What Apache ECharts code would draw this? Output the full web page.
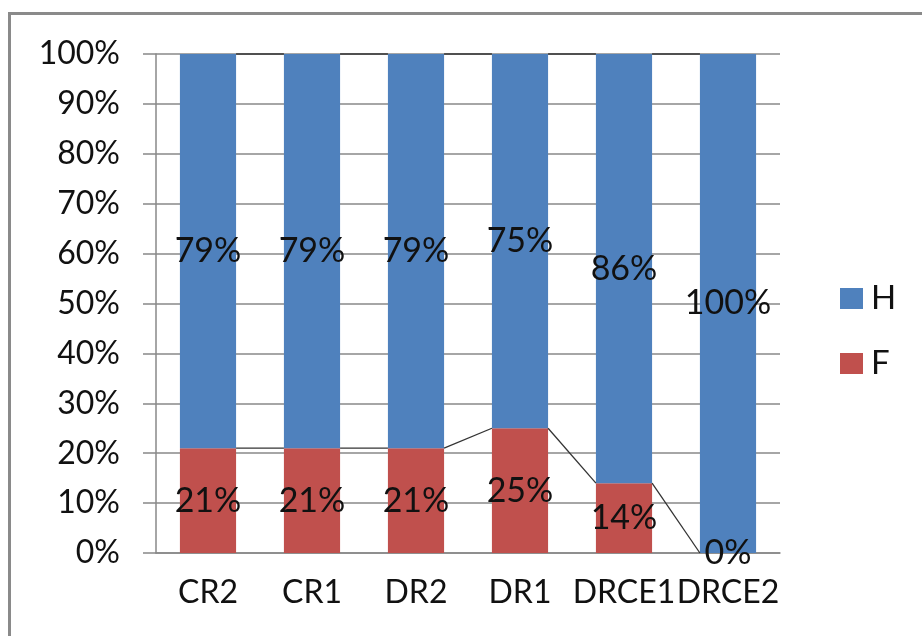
<!DOCTYPE html>
<html>
<head>
<meta charset="utf-8">
<script src="https://cdn.jsdelivr.net/npm/echarts@6/dist/echarts.min.js"></script>
<style>html,body{margin:0;padding:0;background:#fff;}#c{width:922px;height:636px;}</style>
</head>
<body>
<div id="c"></div>
<script>
const categories = ['CR2', 'CR1', 'DR2', 'DR1', 'DRCE1', 'DRCE2'];
const valuesH = [79, 79, 79, 75, 86, 100];
const valuesF = [21, 21, 21, 25, 14, 0];
const yTicks = [0, 10, 20, 30, 40, 50, 60, 70, 80, 90, 100];

const FONT = 'Lato';
const BAR_RATIO = 0.54;
const chart = echarts.init(document.getElementById('c'), null, {renderer: 'canvas'});

// series-line segments built from the data: [fromIndex, fromValue, toValue]
const segF = [], segTop = [];
for (let i = 0; i < categories.length - 1; i++) {
  segF.push([i, valuesF[i], valuesF[i + 1]]);
  segTop.push([i, valuesF[i] + valuesH[i], valuesF[i + 1] + valuesH[i + 1]]);
}
function seriesLine(params, api) {
  const i = api.value(0);
  const a = api.coord([i, api.value(1)]);
  const b = api.coord([i + 1, api.value(2)]);
  const half = api.size([1, 0])[0] * BAR_RATIO / 2;
  return {
    type: 'line',
    shape: {x1: a[0] + half, y1: a[1], x2: b[0] - half, y2: b[1]},
    style: {stroke: '#333', lineWidth: 1.3}
  };
}

chart.setOption({
  animation: false,
  backgroundColor: '#fff',
  textStyle: {fontFamily: FONT},
  graphic: [{
    type: 'rect', silent: true,
    shape: {x: 9.5, y: 13.5, width: 1000, height: 1000},
    style: {fill: 'none', stroke: '#8a8a8a', lineWidth: 3}
  }],
  grid: {left: 156, right: 142, top: 54, bottom: 83, containLabel: false},
  legend: {
    data: ['H', 'F'],
    orient: 'vertical',
    left: 835, top: 277,
    itemWidth: 23, itemHeight: 21, itemGap: 32,
    icon: 'rect',
    textStyle: {fontFamily: FONT, fontSize: 33, color: '#111', padding: [0, 0, 0, 3]}
  },
  xAxis: {
    type: 'category',
    data: categories,
    axisLine: {show: true, lineStyle: {color: '#888', width: 1.5}},
    axisTick: {show: false},
    axisLabel: {fontFamily: FONT, fontSize: 32, color: '#111', margin: 24, interval: 0}
  },
  yAxis: {
    type: 'value',
    min: yTicks[0], max: yTicks[yTicks.length - 1], interval: 10,
    axisLine: {show: true, lineStyle: {color: '#888', width: 1.5}},
    axisTick: {show: true, length: 13, lineStyle: {color: '#888', width: 1.5}},
    splitLine: {show: true, lineStyle: {color: '#888', width: 1.5}},
    axisLabel: {fontFamily: FONT, fontSize: 32, color: '#111', margin: 36, formatter: '{value}%'}
  },
  series: [
    {
      name: 'F', type: 'bar', stack: 'total', data: valuesF,
      barWidth: (BAR_RATIO * 100) + '%',
      itemStyle: {color: '#C0504D'},
      label: {show: true, position: 'inside', formatter: '{c}%', color: '#111', fontFamily: FONT, fontSize: 34}
    },
    {
      name: 'H', type: 'bar', stack: 'total', data: valuesH,
      barWidth: (BAR_RATIO * 100) + '%',
      itemStyle: {color: '#4F81BD'},
      label: {show: true, position: 'inside', formatter: '{c}%', color: '#111', fontFamily: FONT, fontSize: 34}
    },
    {
      type: 'custom', renderItem: seriesLine, data: segF,
      encode: {x: 0, y: 1}, silent: true, z: 5
    },
    {
      type: 'custom', renderItem: seriesLine, data: segTop,
      encode: {x: 0, y: 1}, silent: true, z: 5
    }
  ]
});
</script>
</body>
</html>
